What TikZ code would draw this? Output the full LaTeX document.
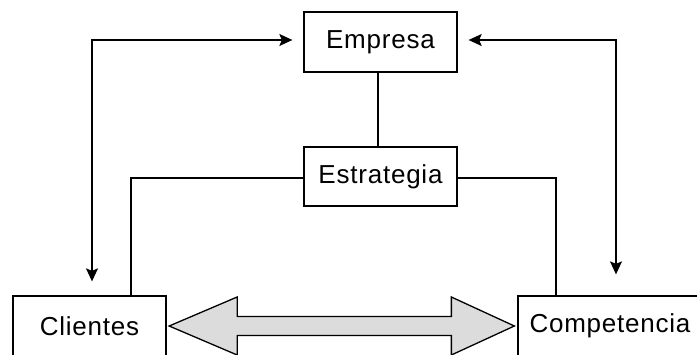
\documentclass[tikz,border=0pt]{standalone}
\usepackage{fontspec}
\setmainfont{Liberation Sans}
\newfontfamily\boxfont[LetterSpace=3]{Liberation Sans}
\usetikzlibrary{arrows.meta,calc}
\definecolor{arrowgray}{RGB}{220,220,220}
\tikzset{
  stepbox/.style={draw, line width=1.3pt, fill=white, inner sep=0pt,
    minimum height=60pt, font=\boxfont\fontsize{26}{31}\selectfont},
  link/.style={line width=1.3pt},
  tiplink/.style={line width=1.3pt, {Stealth[length=13pt,width=12pt,inset=2.5pt]}-{Stealth[length=13pt,width=12pt,inset=2.5pt]}},
  bigarrow/.style={draw, line width=1.3pt, fill=arrowgray, line join=miter}
}
\begin{document}
\begin{tikzpicture}[x=1pt, y=-1pt]
  \useasboundingbox (0,0) rectangle (697,354);
  \clip (0,0) rectangle (697,354);

  % boxes
  \node[stepbox, minimum width=153pt] (emp) at (380.5,42) {Empresa};
  \node[stepbox, minimum width=153pt, minimum height=59pt] (est) at (380.5,176.5) {Estrategia};
  \node[stepbox, minimum width=153pt] (cli) at (89.5,326) {Clientes};
  \node[stepbox, minimum width=184pt] (com) at (610,326) {Competencia};

  % plain links
  \draw[link] ([xshift=-2.5pt]emp.south) -- ([xshift=-2.5pt]est.north);
  \draw[link] ([yshift=-1.5pt]est.west) -| ([xshift=41.5pt]cli.north);
  \draw[link] ([yshift=-1.5pt]est.east) -| ([xshift=-54pt]com.north);

  % two-way arrows between the top box and the bottom boxes
  \draw[tiplink, shorten <=11pt, shorten >=14pt]
    ([yshift=2pt]emp.west) -| ([xshift=2.5pt]cli.north);
  \draw[tiplink, shorten <=11pt, shorten >=21pt]
    ([yshift=2pt]emp.east) -| ([xshift=6pt]com.north);

  % broad double arrow between the bottom boxes
  \coordinate (L) at ($(cli.east)+(2.5pt,0)$);
  \coordinate (R) at ($(com.west)+(-3pt,0)$);
  \draw[bigarrow]
    (L) -- ++(68,-29) -- ++(0,19.5) -- ($(R)+(-63,-9.5)$) -- ++(0,-19.5)
    -- (R) -- ++(-63,29) -- ++(0,-19.5) -- ($(L)+(68,9.5)$) -- ++(0,19.5) -- cycle;
\end{tikzpicture}
\end{document}
